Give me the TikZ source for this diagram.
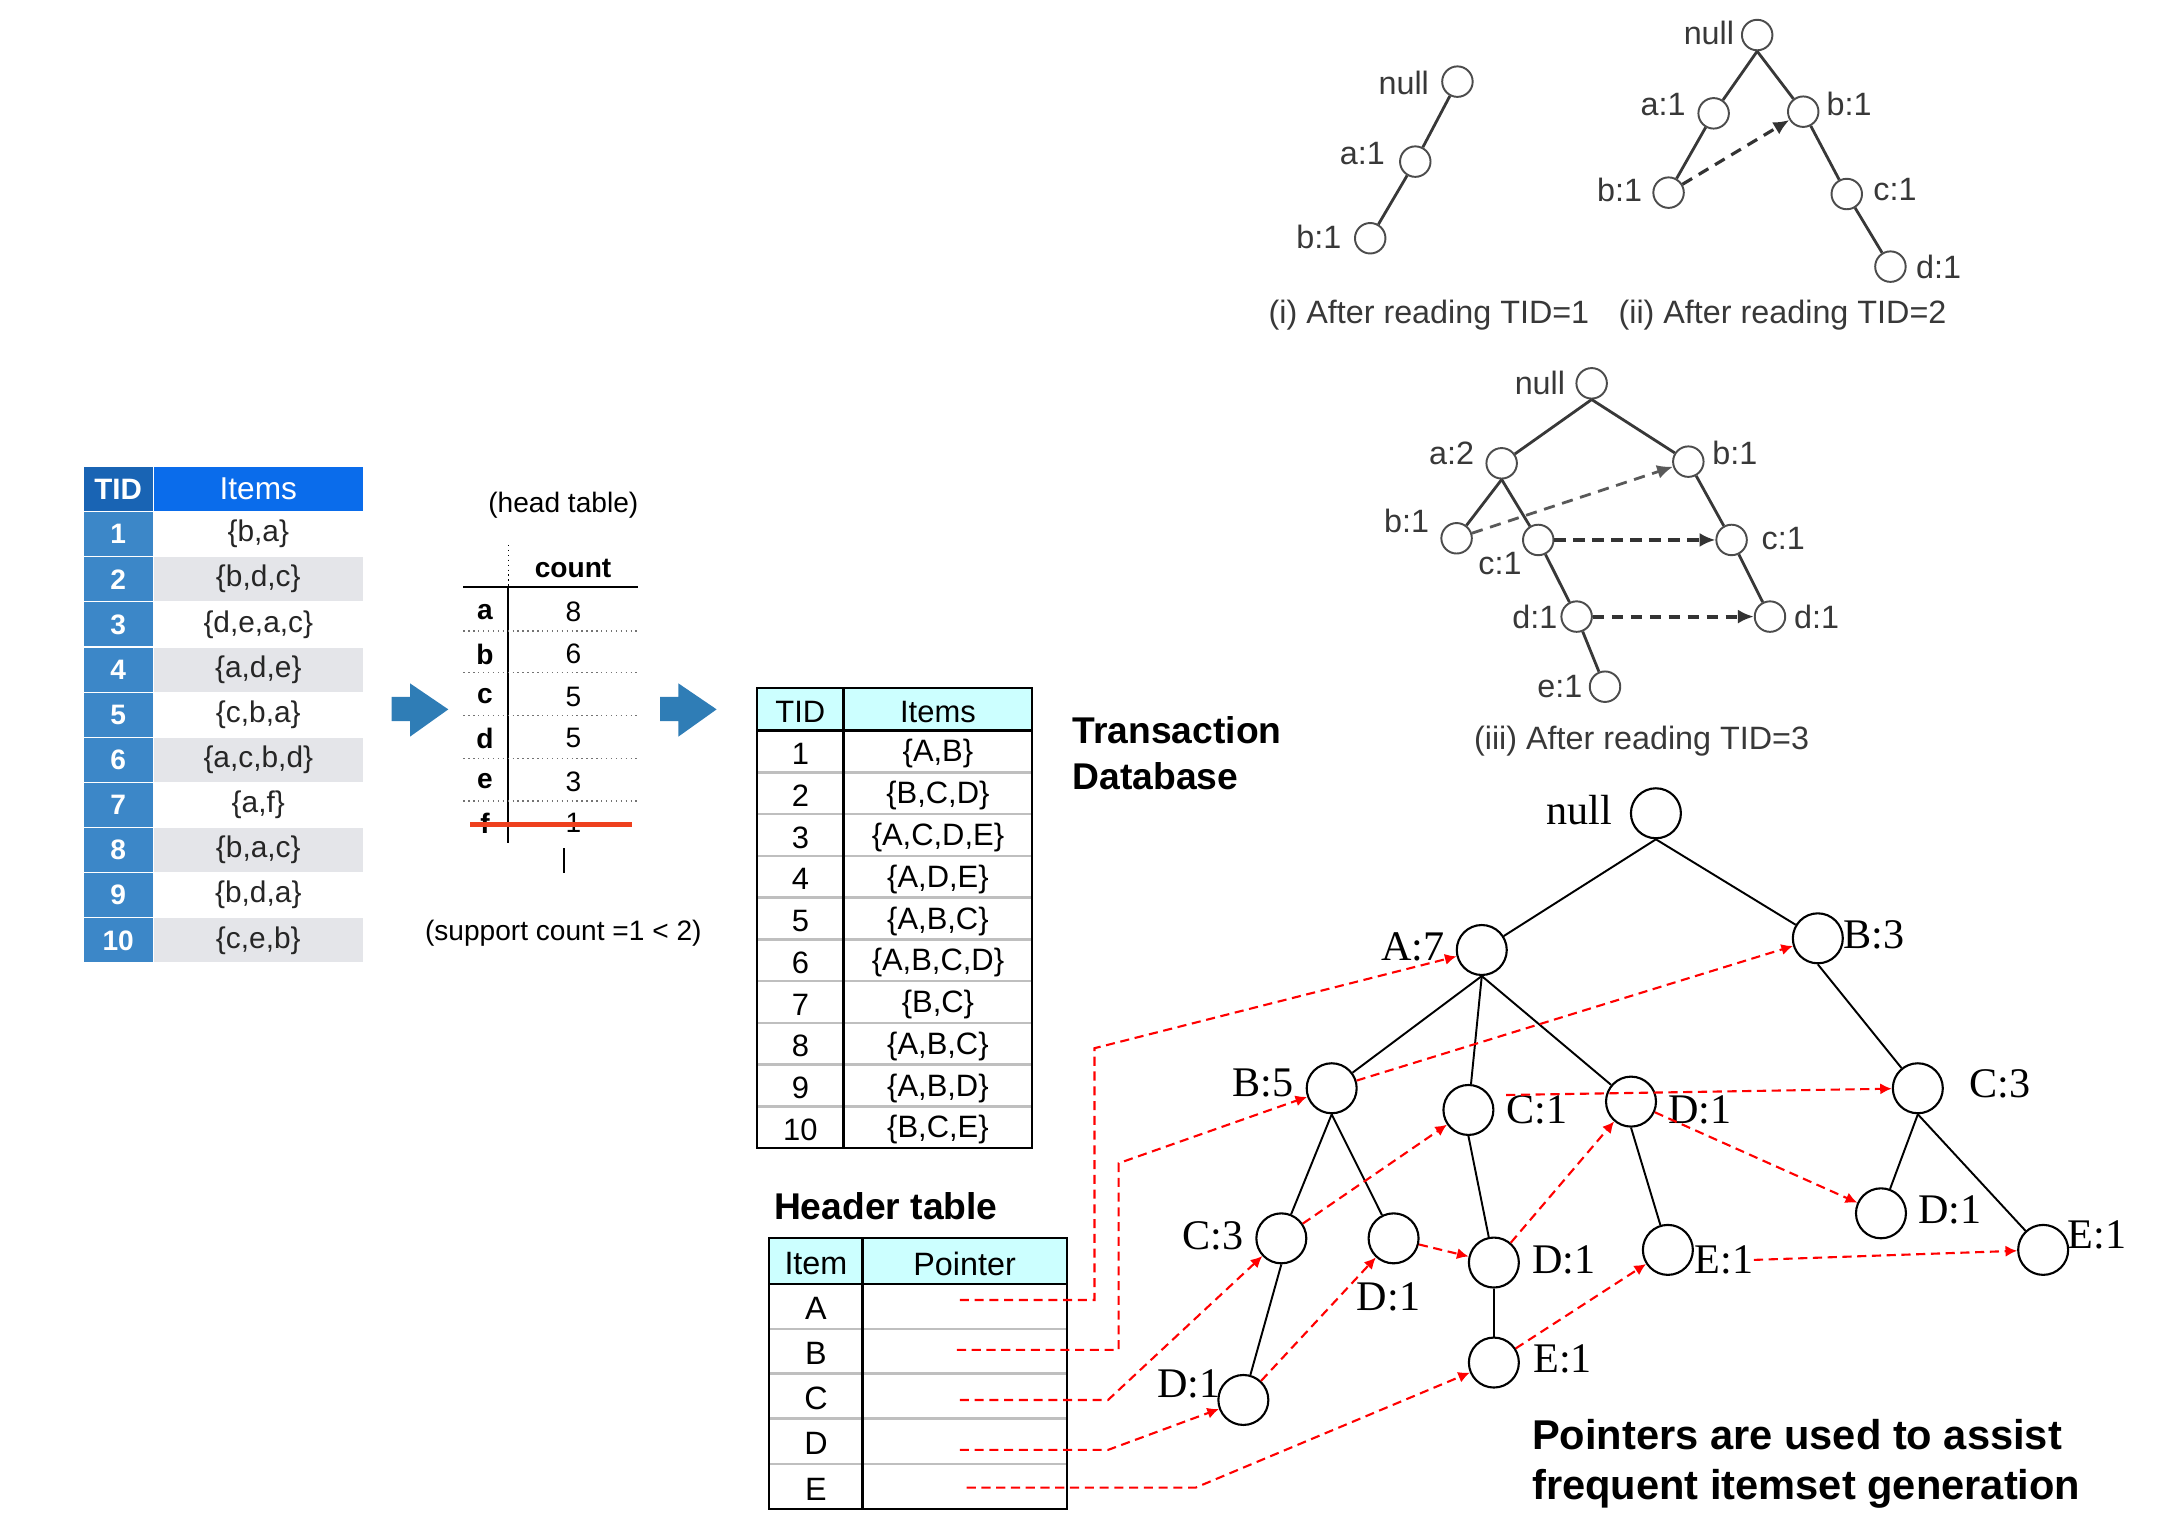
\documentclass[tikz,border=0pt]{standalone}
\usepackage{fontspec}
\setmainfont{Liberation Serif}
\setsansfont{Liberation Sans}
\usetikzlibrary{arrows.meta,positioning}
\definecolor{tidhead}{RGB}{25,100,180}
\definecolor{itemhead}{RGB}{10,108,235}
\definecolor{tidcell}{RGB}{60,135,200}
\definecolor{rowgray}{RGB}{228,229,233}
\definecolor{cyanhd}{RGB}{204,255,255}
\definecolor{strikered}{RGB}{238,64,30}
\definecolor{arrowblue}{RGB}{47,125,182}

\begin{document}
\begin{tikzpicture}[x=0.013909cm,y=-0.013909cm,>={Latex[length=3.3pt,width=3.2pt]},
 tcell/.style={inner sep=0pt,outer sep=0pt,minimum width=7mm,minimum height=4.51mm,draw=white,line width=.3pt,text=white,font=\sffamily\bfseries\fontsize{8}{9}\selectfont},
 icell/.style={tcell,minimum width=21mm,text=black!85,font=\sffamily\fontsize{8.5}{9}\selectfont},
 hd/.style={inner sep=1pt,font=\sffamily\fontsize{8}{9}\selectfont},
 hdb/.style={hd,font=\sffamily\bfseries\fontsize{8}{9}\selectfont},
 tx/.style={inner sep=1pt,yshift=-.7pt,font=\sffamily\fontsize{8.8}{10}\selectfont},
 ttl/.style={inner sep=0pt,align=left,font=\sffamily\bfseries\fontsize{10.6}{13.3}\selectfont},
 gline/.style={draw=black!25,line width=.7pt},
 fp/.style={circle,draw,line width=.6pt,minimum size=5mm,inner sep=0pt},
 fpl/.style={inner sep=0pt,font=\fontsize{12}{12}\selectfont},
 tedge/.style={line width=.55pt},
 ptr/.style={->,draw=red,line width=.6pt,dash pattern=on 2.6pt off 1.6pt},
 sn/.style={circle,draw=black!70,line width=.55pt,minimum size=3.05mm,inner sep=0pt},
 snl/.style={inner sep=0pt,text=black!78,font=\sffamily\fontsize{9.2}{10}\selectfont},
 sedge/.style={draw=black!78,line width=.8pt},
 sptr/.style={-{Latex[length=4.5pt,width=4pt]},draw=black!80,line width=1.1pt,dash pattern=on 3.2pt off 2.2pt}]
\useasboundingbox (0,0) rectangle (1568,1103);

% raw transactions
\node[tcell,fill=tidhead,minimum height=4.5mm,font=\sffamily\bfseries\fontsize{8.4}{9}\selectfont] (tidh) at (85,351.5) {TID};
\node[icell,fill=itemhead,minimum height=4.5mm,text=white,font=\sffamily\fontsize{9}{10}\selectfont] (itmh) at (185.7,351.5) {Items};
\foreach \n/\s in {1/{b,a},2/{b,d,c},3/{d,e,a,c},4/{a,d,e},5/{c,b,a},6/{a,c,b,d},7/{a,f},8/{b,a,c},9/{b,d,a},10/{c,e,b}}{
  \pgfmathsetmacro{\yy}{384+32.45*(\n-1)}
  \ifodd\n\def\rc{white}\else\def\rc{rowgray}\fi
  \node[tcell,fill=tidcell] (tid\n) at (85,\yy) {\n};
  \node[icell,fill=\rc] (itm\n) at (185.7,\yy) {\{\s\}};
}

% head table
\node[hd] (htt) at (405,363) {(head table)};
\node[hdb] (cnt) at (412,408.6) {count};
\foreach \k/\c/\yy in {a/8/439.7,b/6/470.2,c/5/500.8,d/5/530.8,e/3/561.9,f/1/591.9}{
  \node[hdb] (hk\k) at (348.7,\yy) {\k};
  \node[hd] (hc\k) at (412.2,\yy) {\c};
}
\draw[densely dotted,line width=.4pt] (365.4,391.8) -- (365.4,421.8);
\draw[line width=.5pt] (365.4,421.8) -- (365.4,606.3);
\draw[line width=.6pt] (333.1,422.2) -- (458.9,422.2);
\foreach \yy in {453.6,483.6,514.5,545.4,575.8}
  \draw[black!55,densely dotted,line width=.4pt] (333.1,\yy) -- (458.9,\yy);
\draw[strikered,line width=1.4pt] (337.9,593.1) -- (454.1,593.1);
\draw[line width=.5pt] (405.7,609.9) -- (405.7,627.8);
\node[hd] (sup) at (405,671) {(support count =1 < 2)};

\foreach \dx in {0,192.9}
  \fill[arrowblue,shift={(\dx,0)}] (281.6,501) -- (294.8,501) -- (294.8,491.3) -- (322.3,510)
    -- (294.8,529.6) -- (294.8,518.5) -- (281.6,518.5) -- cycle;

% transaction database
\fill[cyanhd] (544.3,494.8) rectangle (742,525.3);
\foreach \k in {1,...,9}
  \draw[gline] (544.3,525.3+30.02*\k) -- (742,525.3+30.02*\k);
\draw[line width=.6pt] (544.3,494.8) rectangle (742,825.5);
\draw[line width=.7pt] (544.3,525.3) -- (742,525.3);
\draw[line width=.9pt] (606.5,494.8) -- (606.5,825.5);
\node[tx] (dbth) at (575.4,510) {TID};
\node[tx] (dbih) at (674.3,510) {Items};
\foreach \n/\s in {1/{A,B},2/{B,C,D},3/{A,C,D,E},4/{A,D,E},5/{A,B,C},6/{A,B,C,D},7/{B,C},8/{A,B,C},9/{A,B,D},10/{B,C,E}}{
  \pgfmathsetmacro{\yy}{525.3+30.02*(\n-0.5)}
  \node[tx] (dbt\n) at (575.4,\yy) {\n};
  \node[tx] (dbi\n) at (674.3,\yy) {\{\s\}};
}
\node[ttl,anchor=west] (tdb) at (770.6,541.6) {Transaction\\Database};

% header table
\node[ttl,anchor=west] (htl) at (556,867.5) {Header table};
\fill[cyanhd] (553,890.2) rectangle (766.8,923);
\foreach \yy in {955.4,987.3,1019.7,1052.5}
  \draw[gline] (553,\yy) -- (766.8,\yy);
\draw[line width=.6pt] (553,890.2) rectangle (766.8,1085);
\draw[line width=.7pt] (553,923) -- (766.8,923);
\draw[line width=.9pt] (620.2,890.2) -- (620.2,1085);
\node[tx,font=\sffamily\fontsize{9.2}{10}\selectfont] (hti) at (586.6,906.6) {Item};
\node[tx,font=\sffamily\fontsize{9.2}{10}\selectfont] (htp) at (693.5,906.6) {Pointer};
\foreach \k/\yy in {A/939.2,B/971.4,C/1003.5,D/1036.1,E/1068.8}
  \node[tx,font=\sffamily\fontsize{9.2}{10}\selectfont] (hr\k) at (586.6,\yy) {\k};
\coordinate (pA) at (690,934.6);
\coordinate (pB) at (688,970.5);
\coordinate (pC) at (690,1006.5);
\coordinate (pD) at (690,1042.4);
\coordinate (pE) at (695,1069.5);
\coordinate (cA) at (786.9,753.6);
\coordinate (cB) at (804.2,836.3);
\coordinate (cC) at (796.6,1006.5);
\coordinate (cD) at (796.6,1042.4);
\coordinate (cE) at (859.6,1069.5);

% FP-tree
\node[fp] (nl) at (1190.5,584.7) {};
\node[fpl] (nlt) at (1135.4,582.3) {null};
\node[fp] (A7) at (1065.3,683) {};
\node[fpl] (A7t) at (1015.8,680.6) {A:7};
\node[fp] (B3) at (1306.9,674.6) {};
\node[fpl] (B3t) at (1347.4,672.2) {B:3};
\node[fp] (B5) at (957.4,782.4) {};
\node[fpl] (B5t) at (907.9,778.8) {B:5};
\node[fp] (C1) at (1055.7,798) {};
\node[fpl] (C1t) at (1105.2,798) {C:1};
\node[fp] (D1a) at (1172.6,792) {};
\node[fpl] (D1at) at (1222.2,798) {D:1};
\node[fp] (C3r) at (1378.8,782.4) {};
\node[fpl] (C3rt) at (1437.9,779.3) {C:3};
\node[fp] (C3l) at (921.2,890.3) {};
\node[fpl] (C3lt) at (872.3,888.6) {C:3};
\node[fp] (D1b) at (1001.9,890.3) {};
\node[fpl] (D1bt) at (998.3,932.2) {D:1};
\node[fp] (D1c) at (1074,907.7) {};
\node[fpl] (D1ct) at (1124.4,905.8) {D:1};
\node[fp] (E1a) at (1199.1,898.6) {};
\node[fpl] (E1at) at (1239.4,905.8) {E:1};
\node[fp] (D1r) at (1352.3,872.3) {};
\node[fpl] (D1rt) at (1401.8,869.9) {D:1};
\node[fp] (E1r) at (1468.9,898.6) {};
\node[fpl] (E1rt) at (1507.7,887.8) {E:1};
\node[fp] (E1c) at (1074,979.6) {};
\node[fpl] (E1ct) at (1123.4,977.2) {E:1};
\node[fp] (D1l) at (893.9,1006.5) {};
\node[fpl] (D1lt) at (854.6,995.2) {D:1};

\draw[tedge] (nl.south)--(A7);
\draw[tedge] (nl.south)--(B3);
\draw[tedge] (A7.south)--(B5);
\draw[tedge] (A7.south)--(C1);
\draw[tedge] (A7.south)--(D1a);
\draw[tedge] (B5.south)--(C3l);
\draw[tedge] (B5.south)--(D1b);
\draw[tedge] (C1.south)--(D1c);
\draw[tedge] (D1c.south)--(E1c);
\draw[tedge] (D1a.south)--(E1a);
\draw[tedge] (C3l.south)--(D1l);
\draw[tedge] (B3.south)--(C3r);
\draw[tedge] (C3r.south)--(D1r);
\draw[tedge] (C3r.south)--(E1r);

\draw[ptr] (pA) -| (cA) -- (A7);
\draw[ptr] (pB) -| (cB) -- (B5);
\draw[ptr] (pC) -- (cC) -- (C3l);
\draw[ptr] (pD) -- (cD) -- (D1l);
\draw[ptr] (pE) -- (cE) -- (E1c);
\draw[ptr] (B5) -- (B3);
\draw[ptr] (C3l) -- (C1);
\draw[ptr] (C1t.north west) -- (C3r);
\draw[ptr] (D1l) -- (D1b);
\draw[ptr] (D1b) -- (D1c);
\draw[ptr] (D1c) -- (D1a);
\draw[ptr] (D1a) -- (D1r);
\draw[ptr] (E1c) -- (E1a);
\draw[ptr] (E1at.east) -- (E1r);

\node[anchor=west,align=left,inner sep=0pt,font=\sffamily\bfseries\fontsize{11.85}{14.3}\selectfont] (pnote) at (1101,1052.5) {Pointers are used to assist\\frequent itemset generation};

% construction steps
\node[sn] (n1) at (1047.8,58.7) {};
\node[snl] (n1t) at (1009.2,59.9) {null};
\node[sn] (a1) at (1017.5,116.2) {};
\node[snl] (a1t) at (979.5,110.2) {a:1};
\node[sn] (b1) at (985.1,171.3) {};
\node[snl] (b1t) at (948.2,170.6) {b:1};
\draw[sedge] (n1)--(a1);
\draw[sedge] (a1)--(b1);
\node[snl] (cap1) at (1027.3,226.5) {(i) After reading TID=1};

\node[sn] (n2) at (1263.3,25.2) {};
\node[snl] (n2t) at (1228.6,24) {null};
\node[sn] (a2) at (1232,81.5) {};
\node[snl] (a2t) at (1195.7,75.5) {a:1};
\node[sn] (b2u) at (1296.4,80.3) {};
\node[snl] (b2ut) at (1329.4,75) {b:1};
\node[sn] (b2l) at (1199.6,138.5) {};
\node[snl] (b2lt) at (1164.4,136.5) {b:1};
\node[sn] (c2) at (1327.7,139.5) {};
\node[snl] (c2t) at (1362.4,136) {c:1};
\node[sn] (d2) at (1359.1,191.7) {};
\node[snl] (d2t) at (1393.7,191.7) {d:1};
\draw[sedge] (n2.south)--(a2);
\draw[sedge] (n2.south)--(b2u);
\draw[sedge] (a2)--(b2l);
\draw[sedge] (b2u)--(c2);
\draw[sedge] (c2)--(d2);
\draw[sptr,line width=.9pt] (b2l) -- (b2u);
\node[snl] (cap2) at (1281.5,226.5) {(ii) After reading TID=2};

\node[sn] (n3) at (1144.3,275.6) {};
\node[snl] (n3t) at (1107.1,275.6) {null};
\node[sn] (a3) at (1079.6,333.1) {};
\node[snl] (a3t) at (1043.6,326) {a:2};
\node[sn] (b3r) at (1213.8,331.9) {};
\node[snl] (b3rt) at (1247.3,326) {b:1};
\node[sn] (b3l) at (1047.2,387) {};
\node[snl] (b3lt) at (1011.3,374.5) {b:1};
\node[sn] (c3m) at (1105.9,388.2) {};
\node[snl] (c3mt) at (1078.4,405) {c:1};
\node[sn] (c3r) at (1244.9,388.2) {};
\node[snl] (c3rt) at (1282,387) {c:1};
\node[sn] (d3m) at (1133.5,443.3) {};
\node[snl] (d3mt) at (1103.5,443.3) {d:1};
\node[sn] (d3r) at (1272.5,443.3) {};
\node[snl] (d3rt) at (1306,443.3) {d:1};
\node[sn] (e3) at (1153.9,493.7) {};
\node[snl] (e3t) at (1121.5,493.7) {e:1};
\draw[sedge] (n3.south)--(a3);
\draw[sedge] (n3.south)--(b3r);
\draw[sedge] (a3.south)--(b3l);
\draw[sedge] (a3.south)--(c3m);
\draw[sedge] (c3m)--(d3m);
\draw[sedge] (d3m)--(e3);
\draw[sedge] (b3r)--(c3r);
\draw[sedge] (c3r)--(d3r);
\draw[sptr,line width=.8pt,draw=black!65] (b3l) -- (b3r);
\draw[sptr] (c3m) -- (c3r);
\draw[sptr] (d3m) -- (d3r);
\node[snl] (cap3) at (1180.2,533) {(iii) After reading TID=3};
\end{tikzpicture}
\end{document}
